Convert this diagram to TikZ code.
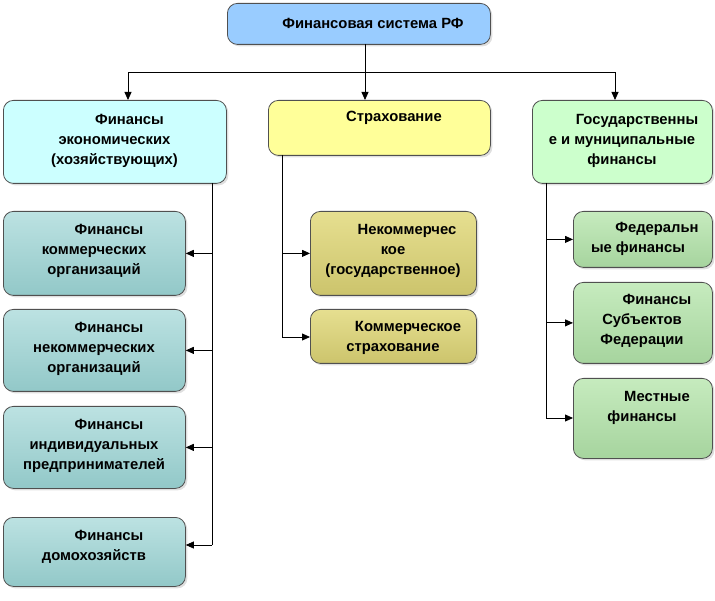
\documentclass[tikz,border=0pt]{standalone}
\usepackage{fontspec}
\setmainfont{Liberation Sans}
\usetikzlibrary{arrows.meta,shadows}
\definecolor{edge}{HTML}{505050}
\definecolor{topblue}{HTML}{99CCFF}
\definecolor{lcyan}{HTML}{CCFFFF}
\definecolor{lyellow}{HTML}{FFFF99}
\definecolor{lgreen}{HTML}{CCFFCC}
\definecolor{tealT}{HTML}{BCE2E2}
\definecolor{tealM}{HTML}{D6EFEF}
\definecolor{tealB}{HTML}{92C8C8}
\definecolor{oliveT}{HTML}{E6DF90}
\definecolor{oliveM}{HTML}{F0ECB0}
\definecolor{oliveB}{HTML}{CCC46C}
\definecolor{greenT}{HTML}{C6EBBE}
\definecolor{greenM}{HTML}{DAF5D2}
\definecolor{greenB}{HTML}{A6D49E}
\tikzset{
  box/.style={draw=edge, line width=0.8pt, rounded corners=10pt, inner sep=0pt, anchor=north west,
    drop shadow={opacity=0.25, shadow xshift=2pt, shadow yshift=-2pt}},
  tealbox/.style={box, top color=tealT, middle color=tealM, bottom color=tealB},
  olivebox/.style={box, top color=oliveT, middle color=oliveM, bottom color=oliveB},
  greenbox/.style={box, top color=greenT, middle color=greenM, bottom color=greenB},
  txt/.style={font=\fontsize{14.8}{20}\selectfont\bfseries, align=center, inner sep=0pt},
  conn/.style={line width=0.8pt, draw=black},
  arr/.style={conn, -{Triangle[length=8pt,width=7pt]}}
}
\begin{document}
\begin{tikzpicture}[x=1pt,y=-1pt]
\useasboundingbox (0,0) rectangle (715,601);
% top
\node[box, fill=topblue, minimum width=263pt, minimum height=41pt] (top) at (227,3) {};
\node[txt] (ttop) at (373,23) {Финансовая система РФ};
% level 2
\node[box, fill=lcyan, minimum width=223pt, minimum height=83pt] (L) at (3,100) {};
\node[txt] (tL) at (114.5,141) {\hspace*{30pt}Финансы\\экономических\\(хозяйствующих)};
\node[box, fill=lyellow, minimum width=222pt, minimum height=55pt] (M) at (268,100) {};
\node[txt] (tM) at (394,118) {Страхование};
\node[box, fill=lgreen, minimum width=180pt, minimum height=83pt] (R) at (532,100) {};
\node[txt] (tR) at (622,141) {\hspace*{30pt}Государственны\\е и муниципальные\\финансы};
% left children
\node[tealbox, minimum width=182pt, minimum height=84pt] (c1) at (3,211) {};
\node[txt] (tc1) at (94,251) {\hspace*{30pt}Финансы\\коммерческих\\организаций};
\node[tealbox, minimum width=182pt, minimum height=82pt] (c2) at (3,309) {};
\node[txt] (tc2) at (94,349) {\hspace*{30pt}Финансы\\некоммерческих\\организаций};
\node[tealbox, minimum width=182pt, minimum height=82pt] (c3) at (3,406) {};
\node[txt] (tc3) at (94,446) {\hspace*{30pt}Финансы\\индивидуальных\\предпринимателей};
\node[tealbox, minimum width=182pt, minimum height=69pt] (c4) at (3,517) {};
\node[txt] (tc4) at (94,547) {\hspace*{30pt}Финансы\\домохозяйств};
% middle children
\node[olivebox, minimum width=166pt, minimum height=84pt] (m1) at (310,211) {};
\node[txt] (tm1) at (393,251) {\hspace*{28pt}Некоммерчес\\кое\\(государственное)};
\node[olivebox, minimum width=166pt, minimum height=54pt] (m2) at (310,309) {};
\node[txt] (tm2) at (393,338) {\hspace*{30pt}Коммерческое\\страхование};
% right children
\node[greenbox, minimum width=139pt, minimum height=56pt] (r1) at (573,211) {};
\node[txt] (tr1) at (638,239) {\hspace*{38pt}Федеральн\\ые финансы};
\node[greenbox, minimum width=139pt, minimum height=81pt] (r2) at (573,282) {};
\node[txt] (tr2) at (642,321) {\hspace*{30pt}Финансы\\Субъектов\\Федерации};
\node[greenbox, minimum width=139pt, minimum height=80pt] (r3) at (573,378) {};
\node[txt] (tr3) at (642,408) {\hspace*{30pt}Местные\\финансы};
% connector coordinates
\coordinate (t0) at (365,44);
\coordinate (j) at (365,72);
\coordinate (aL) at (128,100);
\coordinate (aM) at (365,100);
\coordinate (aR) at (615,100);
\coordinate (lt) at (212,183);
\coordinate (lb) at (212,545);
\coordinate (mt) at (282,155);
\coordinate (mb) at (282,337);
\coordinate (rt) at (546,183);
\coordinate (rb) at (546,418);
% connectors
\draw[conn] (t0) -- (j);
\draw[arr] (j) -| (aL);
\draw[arr] (j) -- (aM);
\draw[arr] (j) -| (aR);
\draw[conn] (lt) -- (lb);
\draw[arr] (lt |- c1.east) -- (c1.east);
\draw[arr] (lt |- c2.east) -- (c2.east);
\draw[arr] (lt |- c3.east) -- (c3.east);
\draw[arr] (lb) -- (c4.east |- lb);
\draw[conn] (mt) -- (mb);
\draw[arr] (mt |- m1.west) -- (m1.west);
\draw[arr] (mb) -- (m2.west |- mb);
\draw[conn] (rt) -- (rb);
\draw[arr] (rt |- r1.west) -- (r1.west);
\draw[arr] (rt |- r2.west) -- (r2.west);
\draw[arr] (rb) -- (r3.west |- rb);
\end{tikzpicture}
\end{document}
